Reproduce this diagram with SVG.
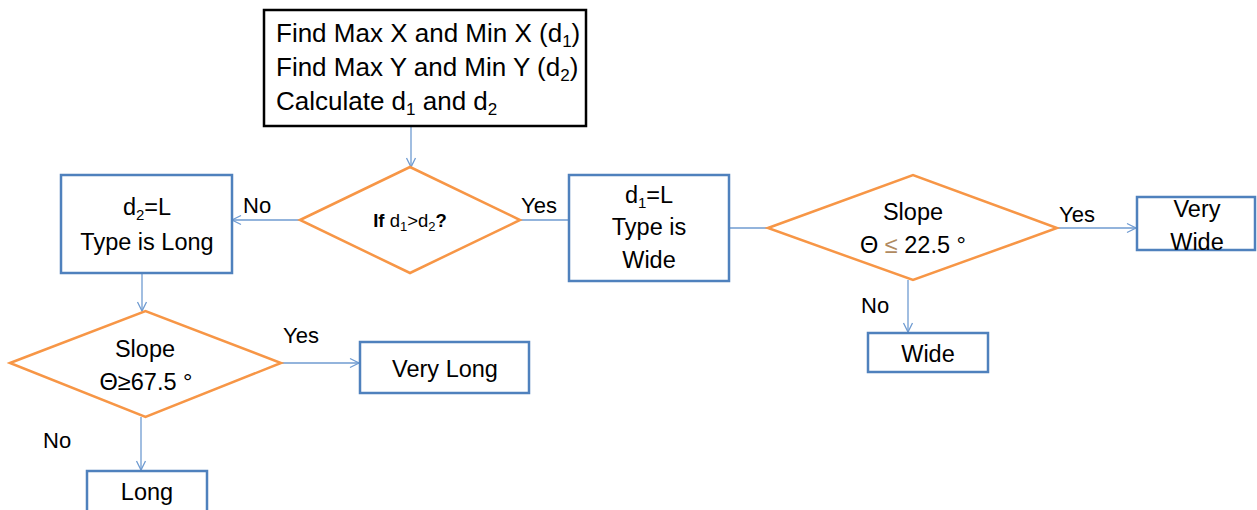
<svg xmlns="http://www.w3.org/2000/svg" width="1257" height="510" viewBox="0 0 1257 510">
<defs>
<marker id="arr" markerWidth="12" markerHeight="12" refX="10" refY="6" orient="auto" markerUnits="userSpaceOnUse">
<path d="M1,1.5 L10,6 L1,10.5" fill="none" stroke="#6f9bd1" stroke-width="1.3"/>
</marker>
<style>
.box{fill:#fff;stroke:#4f81bd;stroke-width:2.5}
.blk{fill:#fff;stroke:#000;stroke-width:2.5}
.dia{fill:#fff;stroke:#f79646;stroke-width:2.5}
.c{fill:none;stroke:#6f9bd1;stroke-width:1.3}
.a{marker-end:url(#arr)}
text{font-family:"Liberation Sans",Arial,sans-serif;fill:#000}
.t{font-size:23.5px}
.tt{font-size:26px}
.m{text-anchor:middle}
.lbl{font-size:22px}
.sub{font-size:15px}
.sub2{font-size:17px}
</style>
</defs>
<rect width="1257" height="510" fill="#fff"/>
<g id="connectors">
<line class="c a" x1="411" y1="126" x2="411" y2="167"/>
<line class="c" x1="520" y1="220" x2="569" y2="220"/>
<line class="c a" x1="300" y1="220" x2="232" y2="220"/>
<line class="c" x1="729" y1="228" x2="768" y2="228"/>
<line class="c a" x1="1057" y1="228" x2="1136" y2="228"/>
<line class="c a" x1="908" y1="280" x2="908" y2="332"/>
<line class="c a" x1="142" y1="273" x2="142" y2="311"/>
<line class="c a" x1="281" y1="363" x2="359" y2="363"/>
<line class="c a" x1="141" y1="417" x2="141" y2="470"/>
</g>
<g id="labels">
<text class="lbl" x="521" y="213">Yes</text>
<text class="lbl" x="243" y="213">No</text>
<text class="lbl" x="1059" y="222">Yes</text>
<text class="lbl" x="861" y="313">No</text>
<text class="lbl" x="283" y="343">Yes</text>
<text class="lbl" x="43" y="448">No</text>
</g>
<g id="start">
<rect class="blk" x="264" y="10" width="322" height="116"/>
<text class="tt" x="276" y="42">Find Max X and Min X (d<tspan class="sub2" dy="5">1</tspan><tspan dy="-5">)</tspan></text>
<text class="tt" x="276" y="76">Find Max Y and Min Y (d<tspan class="sub2" dy="5">2</tspan><tspan dy="-5">)</tspan></text>
<text class="tt" x="276" y="110">Calculate d<tspan class="sub2" dy="5">1</tspan><tspan dy="-5"> and d</tspan><tspan class="sub2" dy="5">2</tspan></text>
</g>
<g id="decision1">
<polygon class="dia" points="300,220 410,167 520,220 410,273"/>
<text class="m" x="410" y="227" font-size="18.5"><tspan font-weight="bold">If </tspan>d<tspan font-size="13" dy="4">1</tspan><tspan dy="-4">&gt;d</tspan><tspan font-size="13" dy="4">2</tspan><tspan dy="-4" font-weight="bold">?</tspan></text>
</g>
<g id="wideType">
<rect class="box" x="569" y="175" width="160" height="106"/>
<text class="t m" x="649" y="203">d<tspan class="sub" dy="5">1</tspan><tspan dy="-5">=L</tspan></text>
<text class="t m" x="649" y="235">Type is</text>
<text class="t m" x="649" y="268">Wide</text>
</g>
<g id="longType">
<rect class="box" x="61" y="175" width="171" height="98"/>
<text class="t m" x="147" y="215">d<tspan class="sub" dy="5">2</tspan><tspan dy="-5">=L</tspan></text>
<text class="t m" x="147" y="250">Type is Long</text>
</g>
<g id="decision2">
<polygon class="dia" points="768,228 913,175 1057,228 913,280"/>
<text class="t m" x="913" y="220">Slope</text>
<text class="t m" x="913" y="253">Θ <tspan fill="#b08a60">≤</tspan> 22.5 °</text>
</g>
<g id="veryWide">
<rect class="box" x="1137" y="197" width="118" height="53"/>
<text class="t m" x="1197" y="217">Very</text>
<text class="t m" x="1197" y="250">Wide</text>
</g>
<g id="wide">
<rect class="box" x="868" y="333" width="120" height="39"/>
<text class="t m" x="928" y="362">Wide</text>
</g>
<g id="decision3">
<polygon class="dia" points="10,363 145.5,311 281,363 145.5,417"/>
<text class="t m" x="145" y="357">Slope</text>
<text class="t m" x="146" y="390">Θ≥67.5 °</text>
</g>
<g id="veryLong">
<rect class="box" x="360" y="342" width="169" height="51"/>
<text class="t m" x="445" y="377">Very Long</text>
</g>
<g id="long">
<rect class="box" x="87" y="471" width="120" height="45"/>
<text class="t m" x="147" y="500">Long</text>
</g>
</svg>
